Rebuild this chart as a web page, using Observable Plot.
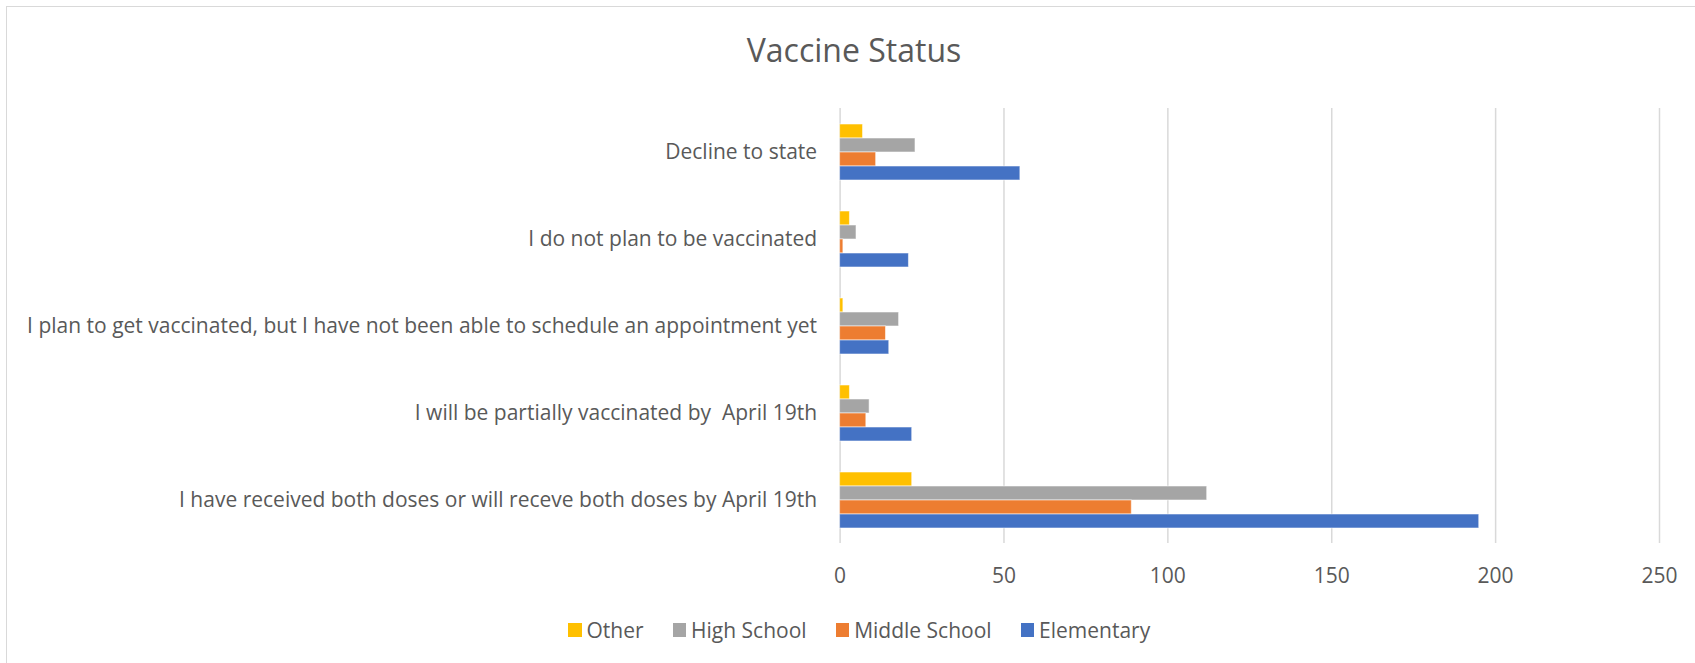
<!DOCTYPE html>
<html><head><meta charset="utf-8">
<script src="https://cdn.jsdelivr.net/npm/d3@7"></script>
<script src="https://cdn.jsdelivr.net/npm/@observablehq/plot@0.6"></script>
<style>
body{margin:0;background:#fff;}
#wrap{position:relative;width:1695px;height:663px;overflow:hidden;font-family:"Open Sans";color:#595959;background:#fff;}
#frame{position:absolute;left:6px;top:6px;width:2000px;height:1000px;border-left:1.5px solid #D9D9D9;border-top:1.5px solid #D9D9D9;}
#chart{position:absolute;left:0;top:0;}
#title{position:absolute;left:854px;top:34px;transform:translateX(-50%);font-size:32px;line-height:32px;white-space:nowrap;}
#legend{position:absolute;left:568px;top:619.5px;display:flex;height:21px;align-items:center;font-size:21px;line-height:21px;white-space:nowrap;}
.item{display:flex;align-items:center;margin-right:29px;}
.sw{width:13.5px;height:13.5px;margin-right:5px;}
</style></head><body>
<div id="wrap"><div id="frame"></div><div id="chart"></div><div id="title">Vaccine Status</div><div id="legend"></div></div>
<script>
const categories = [
  "Decline to state",
  "I do not plan to be vaccinated",
  "I plan to get vaccinated, but I have not been able to schedule an appointment yet",
  "I will be partially vaccinated by  April 19th",
  "I have received both doses or will receve both doses by April 19th"
];
const series = ["Other", "High School", "Middle School", "Elementary"];
const colors = ["#FFC000", "#A5A5A5", "#ED7D31", "#4472C4"];
const other = [7, 3, 1, 3, 22];
const highSchool = [23, 5, 18, 9, 112];
const middleSchool = [11, 1, 14, 8, 89];
const elementary = [55, 21, 15, 22, 195];
const xTicks = [0, 50, 100, 150, 200, 250];

const seriesValues = [other, highSchool, middleSchool, elementary];
const rows = categories.flatMap((c, i) => series.map((s, j) => ({category: c, series: s, value: seriesValues[j][i]})));

const chart = Plot.plot({
  width: 1695,
  height: 663,
  marginLeft: 839.6,
  marginRight: 36,
  marginTop: 106,
  marginBottom: 118,
  style: {fontFamily: "Open Sans", fontSize: "21px", color: "#595959", background: "transparent", overflow: "visible"},
  x: {domain: [0, 250]},
  fy: {domain: categories, padding: 0},
  y: {domain: series, paddingInner: 0, paddingOuter: 0.98, axis: null},
  color: {domain: series, range: colors},
  marks: [
    Plot.gridX({ticks: xTicks, stroke: "#D9D9D9", strokeOpacity: 1, strokeWidth: 1.5}),
    Plot.barX(rows, {fy: "category", y: "series", x: "value", fill: "series", stroke: "white", strokeOpacity: 0.55, strokeWidth: 1}),
    Plot.axisX({ticks: xTicks, tickSize: 0, tickPadding: 25, label: null, fill: "#595959"}),
    Plot.axisFy({tickSize: 0, tickPadding: 23, label: null, anchor: "left", fill: "#595959"})
  ]
});
document.getElementById("chart").appendChild(chart);

const legend = document.getElementById("legend");
series.forEach((s, i) => {
  const item = document.createElement("div");
  item.className = "item";
  const sw = document.createElement("div");
  sw.className = "sw";
  sw.style.background = colors[i];
  const t = document.createElement("span");
  t.textContent = s;
  item.appendChild(sw);
  item.appendChild(t);
  legend.appendChild(item);
});
</script>
</body></html>
